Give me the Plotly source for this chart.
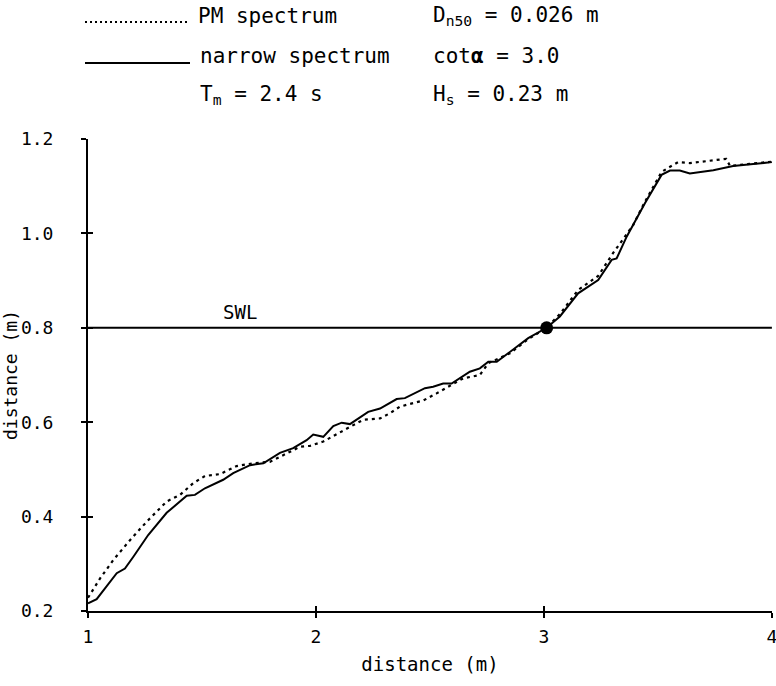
import plotly.graph_objects as go

# narrow spectrum (solid)
narrow_x = [1.0, 1.038, 1.126, 1.162, 1.199, 1.264, 1.345, 1.433, 1.469, 1.513, 1.593, 1.637,
            1.711, 1.769, 1.842, 1.900, 1.959, 1.988, 2.032, 2.076, 2.113, 2.149, 2.229, 2.281,
            2.354, 2.390, 2.478, 2.514, 2.558, 2.595, 2.675, 2.719, 2.756, 2.793, 2.843, 2.931,
            3.012, 3.070, 3.150, 3.238, 3.297, 3.319, 3.363, 3.443, 3.516, 3.553, 3.596, 3.640,
            3.743, 3.830, 3.918, 3.991, 4.0]
narrow_y = [0.216, 0.225, 0.280, 0.290, 0.315, 0.361, 0.408, 0.444, 0.446, 0.460, 0.478, 0.492,
            0.509, 0.513, 0.535, 0.545, 0.562, 0.574, 0.569, 0.592, 0.599, 0.596, 0.622, 0.629,
            0.649, 0.651, 0.672, 0.675, 0.682, 0.682, 0.707, 0.714, 0.728, 0.728, 0.746, 0.778,
            0.800, 0.824, 0.873, 0.901, 0.944, 0.947, 0.993, 1.064, 1.124, 1.133, 1.133, 1.127,
            1.134, 1.143, 1.147, 1.150, 1.151]

# PM spectrum (dotted)
pm_x = [1.0, 1.053, 1.111, 1.184, 1.257, 1.345, 1.404, 1.462, 1.513, 1.579, 1.652, 1.725,
        1.798, 1.871, 1.930, 1.974, 2.032, 2.149, 2.207, 2.281, 2.325, 2.368, 2.471, 2.529,
        2.588, 2.646, 2.719, 2.756, 2.851, 2.931, 3.012, 3.070, 3.150, 3.238, 3.303, 3.363,
        3.392, 3.443, 3.516, 3.545, 3.589, 3.640, 3.713, 3.800, 3.816, 3.918, 4.0]
pm_y = [0.228, 0.269, 0.308, 0.350, 0.389, 0.432, 0.446, 0.471, 0.486, 0.490, 0.507, 0.513,
        0.516, 0.534, 0.548, 0.550, 0.559, 0.590, 0.605, 0.608, 0.619, 0.633, 0.646, 0.661,
        0.677, 0.693, 0.700, 0.725, 0.746, 0.776, 0.800, 0.829, 0.880, 0.910, 0.958, 1.000,
        1.018, 1.067, 1.130, 1.139, 1.151, 1.149, 1.153, 1.158, 1.143, 1.148, 1.152]

swl_x = [1.0, 4.0]
swl_y = [0.8, 0.8]
point_x = [3.012]
point_y = [0.8]

x_ticks = [1, 2, 3, 4]
x_labels = ["1", "2", "3", "4"]
y_ticks = [0.2, 0.4, 0.6, 0.8, 1.0, 1.2]
y_labels = ["0.2", "0.4", "0.6", "0.8", "1.0", "1.2"]

FONT = "DejaVu Sans Mono"
W, H = 776, 686
L, R, T, B = 88, 4, 139, 75
PW, PH = W - L - R, H - T - B


def px(x):
    return (x - L) / PW


def py(y):
    return (H - B - y) / PH


fig = go.Figure()
fig.add_trace(go.Scatter(x=swl_x, y=swl_y, mode="lines",
                         line=dict(color="black", width=2), showlegend=False))
fig.add_trace(go.Scatter(x=pm_x, y=pm_y, mode="lines",
                         line=dict(color="black", width=2.2, dash="3px,4px"), showlegend=False))
fig.add_trace(go.Scatter(x=narrow_x, y=narrow_y, mode="lines",
                         line=dict(color="black", width=2), showlegend=False))
fig.add_trace(go.Scatter(x=point_x, y=point_y, mode="markers",
                         marker=dict(color="black", size=13), showlegend=False))
# invisible trace for inner tick axes
fig.add_trace(go.Scatter(x=[1], y=[0.2], xaxis="x2", yaxis="y2", mode="markers",
                         marker=dict(opacity=0), showlegend=False, hoverinfo="skip"))

axis_common = dict(showgrid=False, zeroline=False, showline=True, linecolor="black",
                   linewidth=2, ticks="outside", ticklen=5, tickwidth=2, tickcolor="black",
                   ticklabeloverflow="allow", automargin=False,
                   tickfont=dict(family=FONT, size=18, color="black"))

fig.update_layout(
    width=W, height=H,
    margin=dict(l=L, r=R, t=T, b=B, autoexpand=False),
    paper_bgcolor="white", plot_bgcolor="white",
    xaxis=dict(range=[1, 4.0005], tickvals=x_ticks, ticktext=x_labels,
               ticklabelstandoff=3,
               title=dict(text="distance (m)", font=dict(family=FONT, size=19, color="black"),
                          standoff=12),
               **axis_common),
    yaxis=dict(range=[0.2, 1.2], tickvals=y_ticks, ticktext=y_labels,
               ticklabelstandoff=24,
               title=dict(text="distance (m)", font=dict(family=FONT, size=18, color="black"),
                          standoff=2),
               **axis_common),
    xaxis2=dict(range=[1, 4.0005], overlaying="x", tickvals=x_ticks, showticklabels=False,
                ticks="inside", ticklen=5, tickwidth=2, tickcolor="black", automargin=False,
                showgrid=False, zeroline=False, showline=False),
    yaxis2=dict(range=[0.2, 1.2], overlaying="y", tickvals=y_ticks, showticklabels=False,
                ticks="inside", ticklen=5, tickwidth=2, tickcolor="black", automargin=False,
                showgrid=False, zeroline=False, showline=False),
)

# header legend samples
fig.add_shape(type="line", xref="paper", yref="paper", x0=px(85), x1=px(190), y0=py(22), y1=py(22),
              line=dict(color="black", width=2, dash="2px,3px"))
fig.add_shape(type="line", xref="paper", yref="paper", x0=px(85), x1=px(190), y0=py(63), y1=py(63),
              line=dict(color="black", width=2))

header = [
    (196, 16, "PM spectrum"),
    (431, 16, "D<sub>n50</sub> = 0.026 m"),
    (198, 56, "narrow spectrum"),
    (431, 56, "cot<b>α</b> = 3.0"),
    (198, 95, "T<sub>m</sub> = 2.4 s"),
    (431, 95, "H<sub>s</sub> = 0.23 m"),
]
for hx, hy, txt in header:
    fig.add_annotation(xref="paper", yref="paper", x=px(hx), y=py(hy), text=txt,
                       showarrow=False, xanchor="left", yanchor="middle",
                       font=dict(family=FONT, size=21, color="black"))

fig.add_annotation(x=1.667, y=0.833, text="SWL", showarrow=False,
                   font=dict(family=FONT, size=19, color="black"))

fig.write_html("out.html")
